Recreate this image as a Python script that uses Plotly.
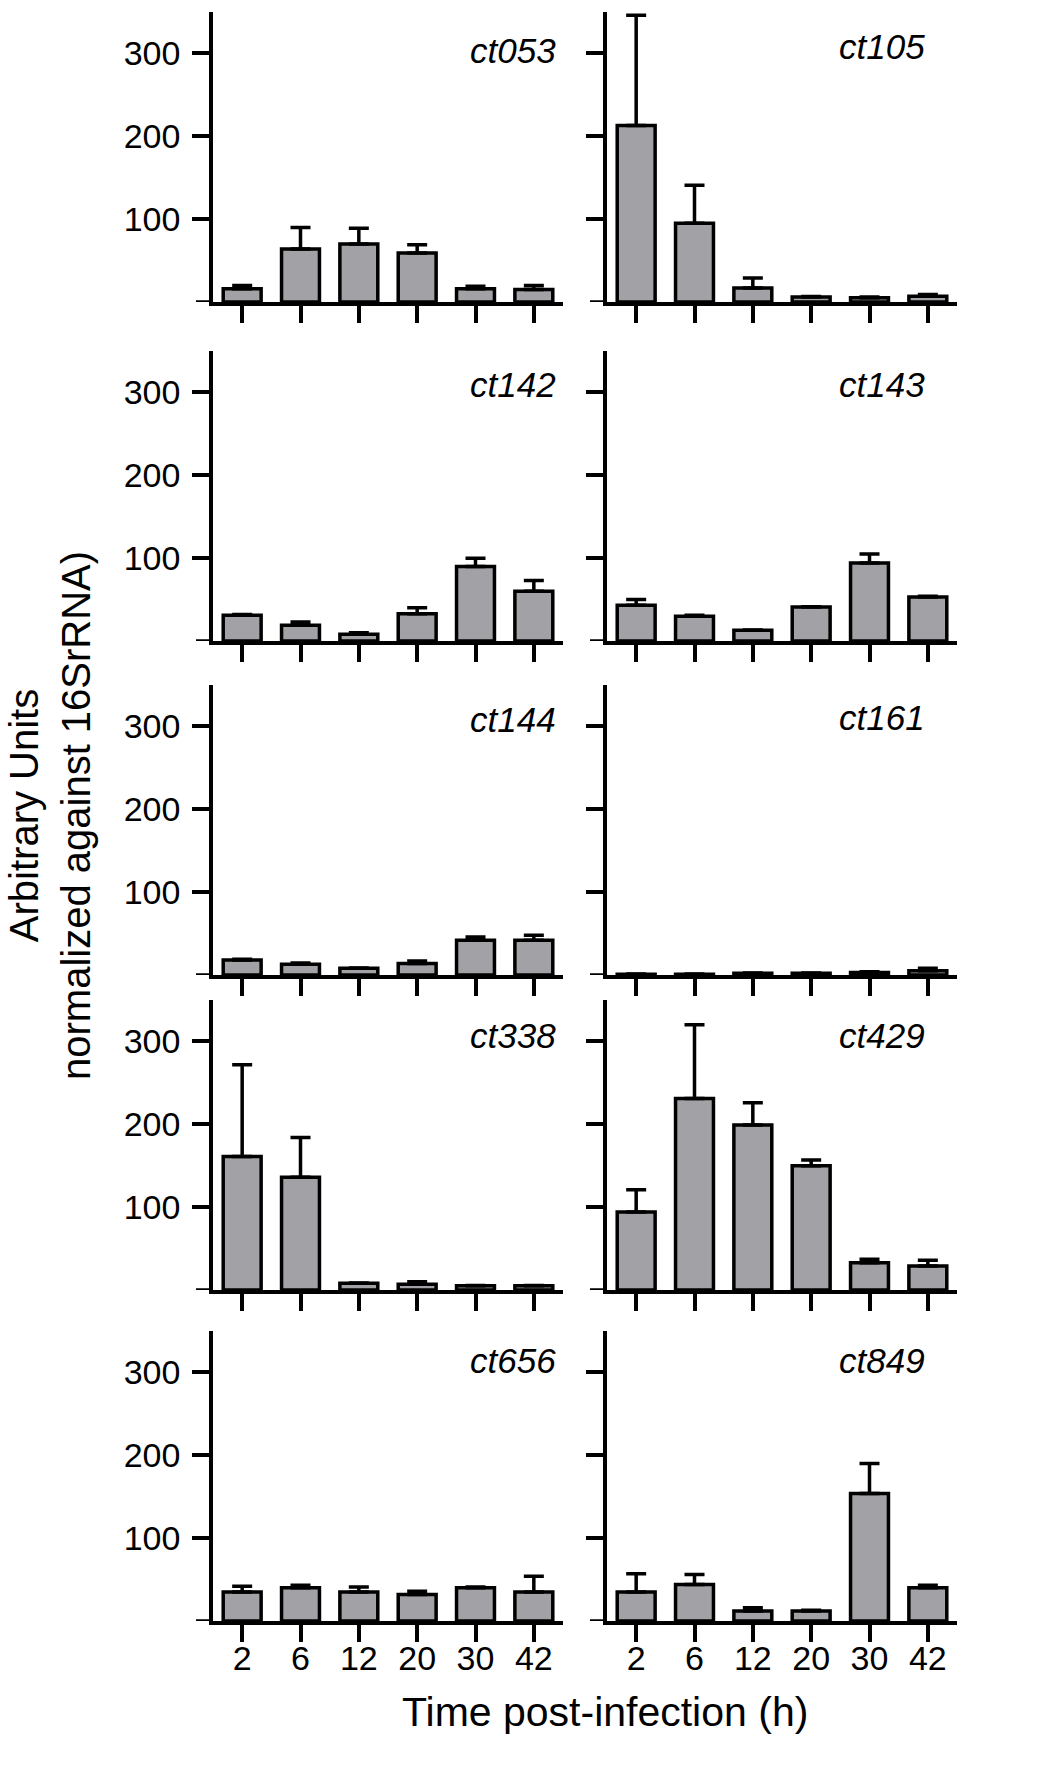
import plotly.graph_objects as go

# ---------------- data ----------------
times = ["2", "6", "12", "20", "30", "42"]
genes = ["ct053", "ct105", "ct142", "ct143", "ct144", "ct161", "ct338", "ct429", "ct656", "ct849"]

ct053_mean = [16, 64, 70, 59, 16, 15]
ct053_err = [4, 26, 19, 10, 3, 5]
ct105_mean = [213, 95, 17, 6, 5, 7]
ct105_err = [133, 46, 12, 0.5, 1, 2]
ct142_mean = [31, 19, 8, 33, 90, 60]
ct142_err = [1, 4, 2, 7, 10, 13]
ct143_mean = [43, 30, 13, 41, 94, 53]
ct143_err = [7, 1, 0.3, 0.3, 11, 1]
ct144_mean = [18, 13, 8, 14, 42, 42]
ct144_err = [1, 1.5, 0.5, 3, 4, 6]
ct161_mean = [1, 1, 2, 2, 3, 5]
ct161_err = [0.3, 0.3, 0.5, 0.5, 1, 3]
ct338_mean = [161, 136, 8, 7, 5, 5]
ct338_err = [111, 48, 0.5, 3, 0.5, 0.5]
ct429_mean = [94, 231, 199, 150, 33, 29]
ct429_err = [27, 89, 27, 7, 4, 7]
ct656_mean = [35, 40, 35, 32, 40, 35]
ct656_err = [7, 3, 6, 4, 1, 19]
ct849_mean = [35, 44, 12, 12, 154, 40]
ct849_err = [22, 12, 4, 1, 36, 3]

y_ticks = [100, 200, 300]

means = [ct053_mean, ct105_mean, ct142_mean, ct143_mean, ct144_mean,
         ct161_mean, ct338_mean, ct429_mean, ct656_mean, ct849_mean]
errs = [ct053_err, ct105_err, ct142_err, ct143_err, ct144_err,
        ct161_err, ct338_err, ct429_err, ct656_err, ct849_err]

# ---------------- layout geometry (px) ----------------
W, H = 1063, 1772
col_px = [(213, 563), (607, 957)]
row_base = [302, 641, 975, 1290, 1621]
row_h = 290
label_right = [558, 927]
label_yc = [[50, 47], [385, 385], [720, 717], [1035, 1035], [1360, 1360]]

FONT = "Liberation Sans, Arial, sans-serif"
GRAY = "#a2a2a6"
LW = 3.5

fig = go.Figure()
layout = dict(
    width=W, height=H,
    margin=dict(l=0, r=0, t=0, b=0),
    paper_bgcolor="white", plot_bgcolor="white",
    showlegend=False,
    font=dict(family=FONT, color="black"),
    annotations=[], shapes=[],
)

for i, g in enumerate(genes):
    r, c = divmod(i, 2)
    k = i + 1
    xs = "x" if k == 1 else f"x{k}"
    ys = "y" if k == 1 else f"y{k}"
    fig.add_trace(go.Bar(
        x=times, y=means[i], xaxis=xs, yaxis=ys, width=0.65,
        marker=dict(color=GRAY, line=dict(color="black", width=LW)),
        error_y=dict(type="data", array=errs[i], arrayminus=[0] * 6,
                     symmetric=False, color="black", thickness=LW, width=10),
    ))
    x0, x1 = col_px[c]
    base = row_base[r]
    layout["xaxis" if k == 1 else f"xaxis{k}"] = dict(
        domain=[x0 / W, x1 / W], anchor=ys, type="category",
        categoryorder="array", categoryarray=times, range=[-0.5, 5.5],
        showline=True, linecolor="black", linewidth=LW,
        ticks="outside", ticklen=17, tickwidth=LW, tickcolor="black",
        showticklabels=(r == 4), tickfont=dict(size=34, family=FONT, color="black"),
        ticklabelstandoff=-13,
        showgrid=False, zeroline=False, automargin=False,
    )
    layout["yaxis" if k == 1 else f"yaxis{k}"] = dict(
        domain=[1 - base / H, 1 - (base - row_h) / H], anchor=xs,
        range=[0, 350], tickmode="array", tickvals=y_ticks,
        showline=True, linecolor="black", linewidth=LW,
        ticks="outside", ticklen=17, tickwidth=LW, tickcolor="black",
        showticklabels=(c == 0), tickfont=dict(size=34, family=FONT, color="black"),
        ticklabelstandoff=5,
        showgrid=False, zeroline=False, automargin=False,
    )
    # x-axis line extension to the left of the y axis
    layout["shapes"].append(dict(
        type="line", xref=f"{xs} domain", yref=ys,
        x0=-17 / (x1 - x0), x1=0, y0=0, y1=0,
        line=dict(color="black", width=LW),
    ))
    layout["annotations"].append(dict(
        text=g, xref="paper", yref="paper",
        x=label_right[c] / W, y=1 - label_yc[r][c] / H,
        xanchor="right", yanchor="middle", showarrow=False,
        font=dict(size=35, family=FONT, style="italic", color="black"),
    ))

layout["annotations"].append(dict(
    text="Arbitrary Units<br>normalized against 16SrRNA)",
    xref="paper", yref="paper", x=50 / W, y=1 - 816 / H,
    xanchor="center", yanchor="middle", textangle=-90, showarrow=False,
    font=dict(size=40, family=FONT, color="black"),
))
layout["annotations"].append(dict(
    text="Time post-infection (h)",
    xref="paper", yref="paper", x=605 / W, y=1 - 1712 / H,
    xanchor="center", yanchor="middle", showarrow=False,
    font=dict(size=41, family=FONT, color="black"),
))

fig.update_layout(**layout)
fig.write_html("out.html", config={"displayModeBar": False},
               post_script="document.body.style.margin='0';")
